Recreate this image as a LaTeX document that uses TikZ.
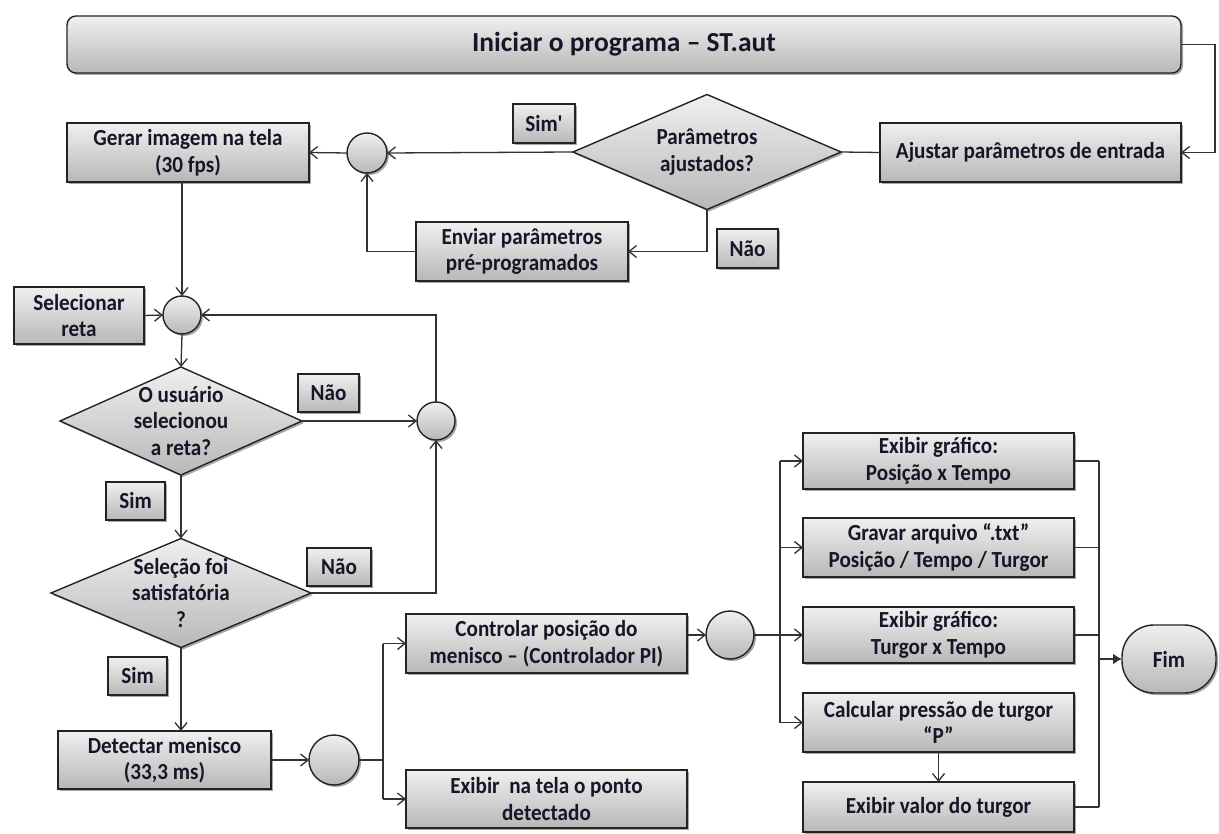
\documentclass[tikz,border=0pt]{standalone}
\usepackage{fontspec}
\setmainfont{Carlito}
\newfontfamily\bodyfont[FakeStretch=0.92]{Carlito}
\usetikzlibrary{shapes.geometric, shadows, arrows.meta}
\definecolor{ink}{RGB}{22,22,40}
\definecolor{edge}{RGB}{35,35,35}
\definecolor{wirec}{RGB}{50,50,50}
\begin{document}
\begin{tikzpicture}[x=1pt, y=-1pt,
  font=\bodyfont\fontsize{23}{26.5}\selectfont\bfseries,
  every node/.append style={text=ink},
  wh/.style 2 args={minimum width=#1pt, minimum height=#2pt},
  grad/.style={top color=white!94!black, bottom color=white!72!black},
  sh/.style={drop shadow={shadow xshift=2pt, shadow yshift=-2pt, opacity=.35, fill=black}},
  box/.style={draw=edge, line width=1.4pt, grad, sh, align=center, inner sep=0pt, outer sep=0pt},
  dia/.style={diamond, draw=edge, line width=1.4pt, grad, sh, inner sep=0pt, outer sep=0pt},
  junc/.style={circle, draw=edge, line width=1.4pt, grad, sh, inner sep=0pt, outer sep=0pt},
  lbl/.style={align=center, inner sep=0pt},
  wire/.style={draw=wirec, line width=1.3pt},
  arr/.style={wire, -{Straight Barb[length=7.5pt, width=12pt]}},
  fat/.style={draw=wirec, line width=2.6pt},
  fatarr/.style={fat, -{Latex[length=9pt, width=11pt]}}
]
\useasboundingbox (0,0) rectangle (1219,834);

% start bar and parameter stage
\node[box, wh={1114}{57}, rounded corners=9pt, font=\rmfamily\fontsize{27.5}{31}\selectfont\bfseries] (title) at (624,44.5) {Iniciar o programa – ST.aut};
\node[box, wh={301}{59}] (ajustar) at (1030.5,152.5) {Ajustar parâmetros de entrada};
\node[dia, wh={268}{115}] (d1) at (707,152) {};
\node[lbl] (d1t) at (d1) {Parâmetros\\ajustados?};
\node[box, wh={62}{39}] (simA) at (544,123.5) {Sim'};
\node[junc, minimum size=40pt] (c1) at (367,153) {};
\node[box, wh={242}{59}] (gerar) at (188,152.5) {Gerar imagem na tela\\(30 fps)};
\node[box, wh={212}{59}] (enviar) at (522,251.5) {Enviar parâmetros\\pré-programados};
\node[box, wh={61}{39}] (naoA) at (747.5,248.5) {Não};

% line selection loop
\node[junc, minimum size=38pt] (c2) at (182,315) {};
\node[box, wh={130}{57}] (selec) at (79,315.5) {Selecionar\\reta};
\node[dia, wh={242}{108}] (d2) at (181,421) {};
\node[lbl] (d2t) at (d2) {O usuário\\selecionou\\a reta?};
\node[junc, minimum size=38pt] (c3) at (436,421) {};
\node[box, wh={61}{38}] (naoB) at (328.5,393) {Não};
\node[box, wh={59}{38}] (simB) at (135.5,501) {Sim};
\node[dia, wh={260}{109}] (d3) at (181,593) {};
\node[lbl] (d3t) at (d3) {Seleção foi\\satisfatória\\?};
\node[box, wh={64}{38}] (naoC) at (339,567) {Não};
\node[box, wh={59}{38}] (simC) at (137.5,676) {Sim};

% detection and control
\node[box, wh={213}{58}] (detect) at (164.5,760) {Detectar menisco\\(33,3 ms)};
\node[junc, minimum size=50pt] (c4) at (334,760) {};
\node[box, wh={281}{59}] (control) at (546.5,643.5) {Controlar posição do\\menisco – (Controlador PI)};
\node[box, wh={281}{58}] (tela) at (546.5,799) {Exibir\ \ na tela o ponto\\detectado};
\node[junc, minimum size=48pt] (c5) at (730,635) {};

% outputs
\node[box, wh={271}{56}] (outA) at (938.5,461) {Exibir gráfico:\\Posição x Tempo};
\node[box, wh={271}{59}] (outB) at (938.5,547.5) {Gravar arquivo “.txt”\\Posição / Tempo / Turgor};
\node[box, wh={271}{56}] (outC) at (938.5,635) {Exibir gráfico:\\Turgor x Tempo};
\node[box, wh={271}{59}] (outD) at (938.5,722.5) {Calcular pressão de turgor\\“P”};
\node[box, wh={271}{50}] (outE) at (938.5,807) {Exibir valor do turgor};
\node[box, wh={94}{68}, rounded corners=32pt] (fim) at (1169,659) {Fim};

% routing points
\coordinate (tr) at (1215,44.5);
\coordinate (j1) at (383,760);
\coordinate (j2) at (780,635);
\coordinate (j3) at (1099,659);

% connectors: parameters
\draw[arr] (title.east) -- (tr) |- (ajustar.east);
\draw[wire] (ajustar.west) -- (d1.east);
\draw[arr] (d1.west) -- (c1.east);
\draw[arr] (c1.west) -- (gerar.east);
\draw[arr] (d1.south) |- (enviar.east);
\draw[arr] (enviar.west) -| (c1.south);

% connectors: selection loop
\draw[arr] (c2.north |- gerar.south) -- (c2.north);
\draw[arr] (selec.east) -- (c2.west);
\draw[arr] (c2.south) -- (d2.north);
\draw[arr] (d2.east) -- (c3.west);
\draw[arr] (d3.east) -| (c3.south);
\draw[arr] (c3.north) |- (c2.east);
\draw[arr] (d2.south) -- (d3.north);
\draw[arr] (d3.south) -- (d3.south |- detect.north);

% connectors: detection
\draw[arr] (detect.east) -- (c4.west);
\draw[fat] (c4.east) -- (j1);
\draw[wire] (j1 |- control.west) -- (j1 |- tela.west);
\draw[arr] (j1 |- control.west) -- (control.west);
\draw[arr] (j1 |- tela.west) -- (tela.west);
\draw[arr] (control.east |- c5.west) -- (c5.west);

% connectors: outputs
\draw[fat] (c5.east) -- (j2);
\draw[wire] (j2 |- outA.west) -- (j2 |- outD.west);
\draw[arr] (j2 |- outA.west) -- (outA.west);
\draw[arr] (j2 |- outB.west) -- (outB.west);
\draw[arr] (j2 |- outC.west) -- (outC.west);
\draw[arr] (j2 |- outD.west) -- (outD.west);
\draw[arr] (outD.south) -- (outE.north);
\draw[wire] (outA.east) -- (outA.east -| j3);
\draw[wire] (outB.east) -- (outB.east -| j3);
\draw[wire] (outC.east) -- (outC.east -| j3);
\draw[wire] (outE.east) -- (outE.east -| j3);
\draw[wire] (outA.east -| j3) -- (outE.east -| j3);
\draw[fatarr] (j3) -- (fim.west);
\end{tikzpicture}
\end{document}
